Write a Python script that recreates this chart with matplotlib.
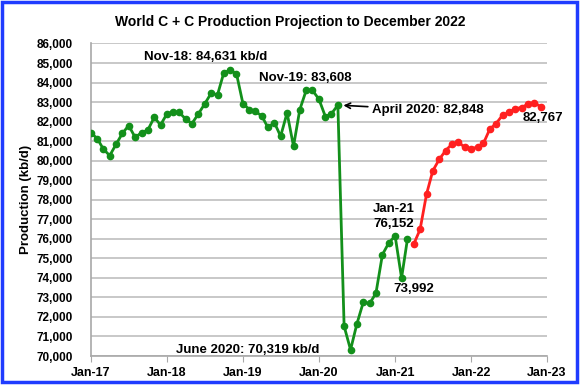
import numpy as np
import matplotlib
matplotlib.use('Agg')
import matplotlib.pyplot as plt
from matplotlib.patches import Rectangle

plt.rcParams['font.family'] = ['Liberation Sans', 'DejaVu Sans']

# actual production, Jan-17 .. Mar-21 (kb/d)
actual = [81430, 81120, 80600, 80260, 80830, 81400, 81800, 81200, 81430, 81570, 82220, 81830,
          82400, 82500, 82470, 82130, 81900, 82400, 82900, 83450, 83380, 84500, 84631, 84450,
          82920, 82620, 82520, 82300, 81700, 81950, 81250, 82450, 80740, 82610, 83608, 83600,
          83150, 82260, 82400, 82848, 71530, 70319, 71630, 72750, 72690, 73220, 75190, 75780,
          76152, 73992, 75970]
# projection, Apr-21 .. Dec-22
proj = [75740, 76480, 78290, 79480, 80070, 80520, 80850, 80950, 80690,
        80620, 80690, 80880, 81620, 81900, 82330, 82470, 82670, 82720, 82900, 82960, 82767]

act_dates = np.arange('2017-01', '2021-04', dtype='datetime64[M]').astype('datetime64[D]')
proj_dates = np.arange('2021-04', '2023-01', dtype='datetime64[M]').astype('datetime64[D]')

years = np.arange('2017', '2024', dtype='datetime64[Y]').astype('datetime64[D]')
year_labels = ['Jan-17', 'Jan-18', 'Jan-19', 'Jan-20', 'Jan-21', 'Jan-22', 'Jan-23']

fig = plt.figure(figsize=(5.81, 3.87), dpi=100)
ax = fig.add_axes([0.1566, 0.0801, 0.785, 0.8075])

green = '#13901b'
red = '#ff2020'
ax.plot(act_dates, actual, '-o', color=green, lw=2, markersize=4.5, zorder=3)
ax.plot(proj_dates, proj, '-o', color=red, lw=2, markersize=4.5, zorder=3)

ax.set_ylim(70000, 86000)
ax.set_yticks(np.arange(70000, 86001, 1000))
ax.yaxis.set_major_formatter(matplotlib.ticker.FuncFormatter(lambda v, p: f'{int(v):,}'))
ax.set_xlim(years[0], years[-1])
ax.set_xticks(years)
ax.set_xticklabels(year_labels)
ax.grid(axis='y', color='#c4c4c4', lw=1.3)
ax.set_axisbelow(True)
for s in ['top', 'right']:
    ax.spines[s].set_visible(False)
for s in ['left', 'bottom']:
    ax.spines[s].set_color('#a8a8a8')
    ax.spines[s].set_linewidth(1.2)
ax.tick_params(axis='y', length=0, pad=13, labelsize=8.5)
ax.tick_params(axis='x', length=4, color='#a8a8a8', pad=4, labelsize=9)
for lab in ax.get_xticklabels() + ax.get_yticklabels():
    lab.set_fontweight('bold')
ax.set_ylabel('Production (kb/d)', fontsize=9.5, fontweight='bold', labelpad=3)

fig.text(0.5, 0.943, 'World C + C Production Projection to December 2022',
         ha='center', va='center', fontsize=10, fontweight='bold')

bold = dict(fontsize=9.5, fontweight='bold')
ax.text(np.datetime64('2017-09-11'), 85330, 'Nov-18: 84,631 kb/d', va='center', **bold)
ax.text(np.datetime64('2019-03-21'), 84240, 'Nov-19: 83,608', va='center', **bold)
ax.annotate('April 2020: 82,848', xy=(act_dates[39], actual[39]),
            xytext=(np.datetime64('2020-09-12'), 82600), va='center',
            arrowprops=dict(arrowstyle='->', color='black', lw=1.2,
                            shrinkA=1, shrinkB=4), **bold)
ax.text(np.datetime64('2022-09-05'), 82190, '82,767', va='center', **bold)
ax.text(np.datetime64('2020-12-26'), 77540, 'Jan-21', ha='center', va='center', **bold)
ax.text(np.datetime64('2020-12-26'), 76770, '76,152', ha='center', va='center', **bold)
ax.text(np.datetime64('2021-04-01'), 73440, '73,992', ha='center', va='center', **bold)
ax.text(np.datetime64('2018-02-15'), 70320, 'June 2020: 70,319 kb/d',
        va='center', **bold)

fig.patches.append(Rectangle((0.004, 0.012), 0.989, 0.983, transform=fig.transFigure,
                             fill=False, edgecolor='#1f3cff', lw=2.5))

fig.savefig('out.png', dpi=100)
